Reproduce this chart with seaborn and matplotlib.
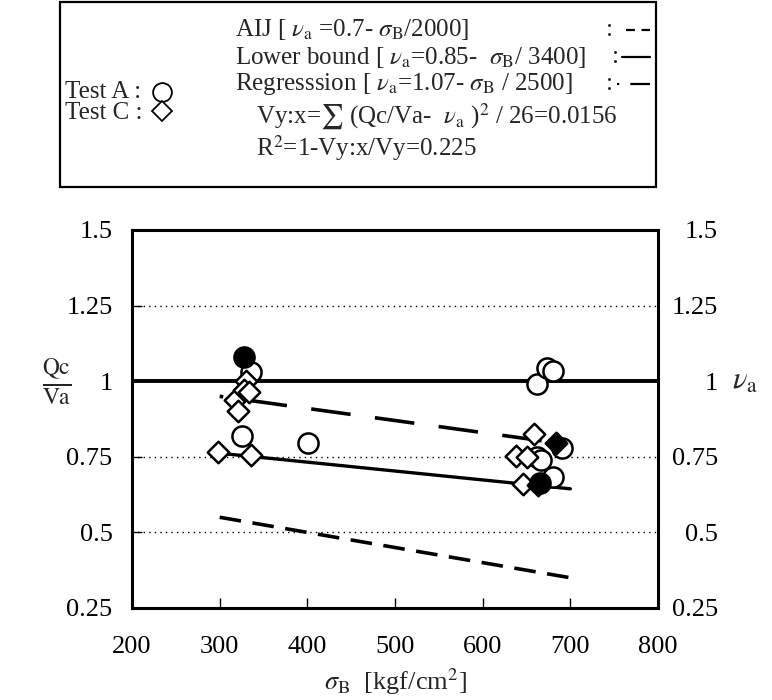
import numpy as np
import pandas as pd
import matplotlib
matplotlib.use("Agg")
import matplotlib.pyplot as plt
from matplotlib.lines import Line2D
from matplotlib.patches import Rectangle
import seaborn as sns

# ---------------- data ----------------
circle_sigma = [336, 325, 401, 662, 673, 680, 690, 662, 667, 680]
circle_ratio = [1.03, 0.82, 0.797, 0.99, 1.045, 1.035, 0.78, 0.75, 0.74, 0.683]
circle_filled_sigma = [328, 665]
circle_filled_ratio = [1.08, 0.665]
diamond_sigma = [298, 336, 317, 321, 330, 328, 334, 658, 638, 646, 663, 650]
diamond_ratio = [0.766, 0.757, 0.937, 0.90, 1.0, 0.97, 0.965, 0.827, 0.753, 0.661, 0.656, 0.75]
diamond_filled_sigma = [684]
diamond_filled_ratio = [0.794]

line_sigma = [300, 700]
aij_a, aij_b = 0.7, 2000
low_a, low_b = 0.85, 3400
reg_a, reg_b = 1.07, 2500

xticks = [200, 300, 400, 500, 600, 700, 800]
yticks = [0.25, 0.5, 0.75, 1.0, 1.25, 1.5]
ytick_labels = ["0.25", "0.5", "0.75", "1", "1.25", "1.5"]

# ---------------- style ----------------
sns.set_theme(style="ticks")
plt.rcParams["font.family"] = ["Liberation Serif", "DejaVu Serif"]
plt.rcParams["mathtext.fontset"] = "stix"

W, H = 772, 700
fig = plt.figure(figsize=(W / 100, H / 100), dpi=100)
L, R, T, B = 132, 658, 230, 608
ax = fig.add_axes([L / W, 1 - B / H, (R - L) / W, (B - T) / H])

ax.set_xlim(200, 800)
ax.set_ylim(0.25, 1.5)

# grid lines dotted
for g in [0.5, 0.75, 1.25]:
    ax.axhline(g, color="black", lw=1.0, ls=(0, (1, 3)), zorder=1)
ax.axhline(1.0, color="black", lw=2.8, zorder=2)

ls_arr = np.array(line_sigma, dtype=float)
df_lines = pd.DataFrame({
    "sigma": ls_arr,
    "aij": aij_a - ls_arr / aij_b,
    "low": low_a - ls_arr / low_b,
    "reg": reg_a - ls_arr / reg_b,
})
sns.lineplot(data=df_lines, x="sigma", y="aij", ax=ax, color="black", lw=2.6,
             linestyle=(0, (6.0, 3.2)), zorder=3)
sns.lineplot(data=df_lines, x="sigma", y="low", ax=ax, color="black", lw=2.4, zorder=3)
sns.lineplot(data=df_lines, x="sigma", y="reg", ax=ax, color="black", lw=2.6,
             linestyle=(10.0, (11.0, 6.8)), zorder=3)

msz_c, msz_d, mew = 210, 120, 1.8
sns.scatterplot(x=circle_sigma, y=circle_ratio, ax=ax, marker="o", s=msz_c,
                color="white", edgecolor="black", linewidth=mew, zorder=4)
sns.scatterplot(x=diamond_sigma, y=diamond_ratio, ax=ax, marker="D", s=msz_d,
                color="white", edgecolor="black", linewidth=mew, zorder=5)
sns.scatterplot(x=circle_filled_sigma, y=circle_filled_ratio, ax=ax, marker="o", s=msz_c,
                color="black", edgecolor="black", linewidth=mew, zorder=6)
sns.scatterplot(x=diamond_filled_sigma, y=diamond_filled_ratio, ax=ax, marker="D", s=msz_d,
                color="black", edgecolor="black", linewidth=mew, zorder=6)

# axes styling
for s in ax.spines.values():
    s.set_linewidth(2.2)
    s.set_color("black")
ax.set_xticks(xticks)
ax.set_yticks(yticks)
ax.set_yticklabels(ytick_labels)
ax.tick_params(axis="both", direction="in", length=7, width=1.0, labelsize=19,
               colors="black")
ax.tick_params(axis="y", pad=14)
ax.tick_params(axis="x", pad=20)
ax.tick_params(axis="y", right=True)

ax2 = ax.twinx()
ax2.set_ylim(ax.get_ylim())
ax2.set_yticks(yticks)
ax2.set_yticklabels(ytick_labels)
ax2.tick_params(axis="y", direction="in", length=0, labelsize=19, pad=43, colors="black")
for lbl in ax2.get_yticklabels():
    lbl.set_horizontalalignment("right")
for s in ax2.spines.values():
    s.set_visible(False)

ax.set_xlabel(r"$\sigma_{\mathrm{B}}$  [kgf/cm$^{2}$]", fontsize=19, labelpad=6)
ax.set_ylabel("")
ax2.set_ylabel("")

ax.text(-0.143, 1.0, r"$\frac{\mathrm{Qc}}{\mathrm{Va}}$", transform=ax.get_yaxis_transform(),
        ha="center", va="center", fontsize=24)
ax.text(1.165, 1.0, r"$\nu_{\mathrm{a}}$", transform=ax.get_yaxis_transform(),
        ha="center", va="center", fontsize=22)

# ---------------- legend box ----------------
def fx(px):
    return px / W

def fy(py):
    return 1 - py / H

BX0, BX1, BY0, BY1 = 60, 656, 2, 187
fig.patches.append(Rectangle((fx(BX0), fy(BY1)), fx(BX1) - fx(BX0), fy(BY0) - fy(BY1),
                             transform=fig.transFigure, fill=False, lw=1.6,
                             edgecolor="black"))
fs = 18
yA, yC = 92, 113
fig.text(fx(65), fy(yA), "Test A :", fontsize=fs, va="center", ha="left")
fig.text(fx(65), fy(yC), "Test C :", fontsize=fs, va="center", ha="left")
fig.lines.append(Line2D([fx(162)], [fy(yA)], transform=fig.transFigure, marker="o",
                        markersize=13.5, mfc="white", mec="black", mew=1.3))
fig.lines.append(Line2D([fx(162)], [fy(yC - 2)], transform=fig.transFigure, marker="D",
                        markersize=10, mfc="white", mec="black", mew=1.3))

rows = [30, 57, 84]
x0 = 235
fig.text(fx(x0), fy(rows[0]), r"AIJ [ $\nu_{\mathrm{a}}$ =0.7- $\sigma_{\mathrm{B}}$/2000]",
         fontsize=fs, va="center", ha="left")
fig.text(fx(x0), fy(rows[1]), r"Lower bound [ $\nu_{\mathrm{a}}$=0.85-  $\sigma_{\mathrm{B}}$/ 3400]",
         fontsize=fs, va="center", ha="left")
fig.text(fx(x0), fy(rows[2]), r"Regresssion [ $\nu_{\mathrm{a}}$=1.07- $\sigma_{\mathrm{B}}$ / 2500]",
         fontsize=fs, va="center", ha="left")
fig.text(fx(256), fy(117),
         r"Vy:x=$\sum$ (Qc/Va-  $\nu_{\mathrm{a}}$ )$^{2}$ / 26=0.0156",
         fontsize=fs, va="center", ha="left")
fig.text(fx(256), fy(148), r"R$^{2}$=1-Vy:x/Vy=0.225", fontsize=fs, va="center", ha="left")

fig.text(fx(610), fy(rows[0]), ":", fontsize=fs, va="center", ha="center")
fig.text(fx(616), fy(rows[1]), ":", fontsize=fs, va="center", ha="center")
fig.text(fx(610), fy(rows[2]), ":", fontsize=fs, va="center", ha="center")
fig.lines.append(Line2D([fx(626), fx(650)], [fy(rows[0]), fy(rows[0])],
                        transform=fig.transFigure, color="black", lw=1.6,
                        ls=(0, (4, 3))))
fig.lines.append(Line2D([fx(622), fx(650)], [fy(rows[1]), fy(rows[1])],
                        transform=fig.transFigure, color="black", lw=1.6))
fig.lines.append(Line2D([fx(617), fx(650)], [fy(rows[2]), fy(rows[2])],
                        transform=fig.transFigure, color="black", lw=1.6,
                        ls=(0, (1, 5, 9, 5))))

fig.savefig("out.png", dpi=100)
